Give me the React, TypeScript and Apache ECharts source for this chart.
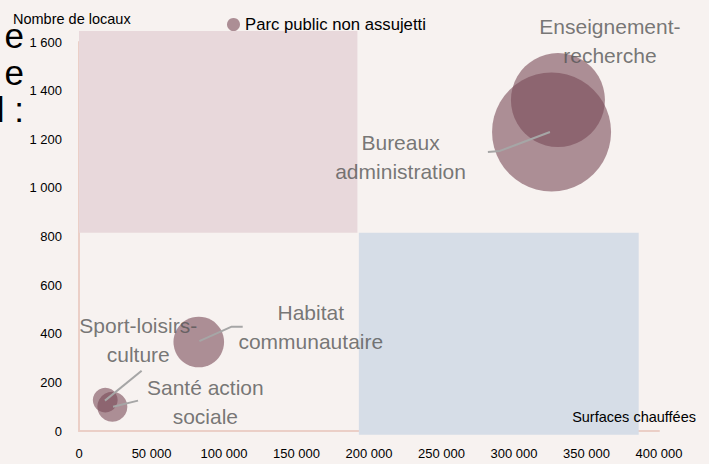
import React, { useEffect, useRef } from "react";
import * as echarts from "echarts";

const seriesName = "Parc public non assujetti";
const categories = [
  "Enseignement-\nrecherche",
  "Bureaux\nadministration",
  "Habitat\ncommunautaire",
  "Sport-loisirs-\nculture",
  "Santé action\nsociale",
];
const surfaces = [330300, 325900, 82600, 18100, 23000];
const locaux = [1361, 1230, 366, 127, 100];
const bubbleValues = [2209, 3540, 640, 154, 225];
const labelOffsets: [number, number][] = [
  [52, -59],
  [-151, 25],
  [112, -15],
  [33, -60],
  [93, -5],
];
const leaderLines: [number, number][][] = [
  [],
  [
    [282000, 1148],
    [290300, 1152],
    [324800, 1230],
  ],
  [
    [112900, 429],
    [105300, 429],
    [83000, 370],
  ],
  [
    [43200, 248],
    [17900, 125],
  ],
  [
    [40700, 125],
    [23500, 100],
  ],
];
// quadrant zones: [x0, y0, x1, y1, color]
const zones: [number, number, number, number, string][] = [
  [0, 815, 192000, 1645, "#e8d8db"],
  [193000, -15, 386000, 815, "#d6dde7"],
];
const xTicks = { min: 0, max: 400000, interval: 50000 };
const yTicks = { min: 0, max: 1600, interval: 200 };
const clippedText = ["e", "e", "al :"];

const REG = "'Liberation Sans', Arial, sans-serif";

const fmt = (v: number) =>
  String(v).replace(/\B(?=(\d{3})+(?!\d))/g, " ");

export default function App() {
  const ref = useRef<HTMLDivElement>(null);
  useEffect(() => {
    document.body.style.margin = "0";
    if (!ref.current) return;
    const chart = echarts.init(ref.current, undefined, { renderer: "svg" });

    const leaderSeries = leaderLines
      .map((pts, i) => ({ pts, i }))
      .filter((d) => d.pts.length > 0)
      .map((d) => ({
        type: "line",
        name: "leader" + d.i,
        data: d.pts,
        symbol: "none",
        silent: true,
        z: 5,
        clip: false,
        lineStyle: { color: "#a6a6a6", width: 2 },
      }));

    const option: any = {
      animation: false,
      backgroundColor: "#f7f2f0",
      grid: { left: 79, right: 50, top: 42, bottom: 33 },
      legend: {
        data: [seriesName],
        left: 222,
        top: 11,
        icon: "circle",
        itemWidth: 13,
        itemHeight: 13,
        itemGap: 5,
        textStyle: { fontFamily: REG, fontSize: 16.7, color: "#000" },
      },
      xAxis: {
        type: "value",
        min: xTicks.min,
        max: xTicks.max,
        interval: xTicks.interval,
        axisLine: { show: true, lineStyle: { color: "#ebcfc7", width: 2 } },
        axisTick: { show: false },
        splitLine: { show: false },
        axisLabel: {
          fontFamily: REG,
          fontSize: 13,
          color: "#000",
          margin: 16,
          formatter: (v: number) => fmt(v),
        },
      },
      yAxis: {
        type: "value",
        min: yTicks.min,
        max: yTicks.max,
        interval: yTicks.interval,
        axisLine: { show: true, lineStyle: { color: "#ebcfc7", width: 2 } },
        axisTick: { show: false },
        splitLine: { show: false },
        axisLabel: {
          fontFamily: REG,
          fontSize: 13,
          color: "#000",
          margin: 17,
          formatter: (v: number) => fmt(v),
        },
      },
      graphic: [
        {
          type: "text",
          left: 13,
          top: 11,
          z: 10,
          style: {
            text: "Nombre de locaux",
            fontFamily: REG,
            fontSize: 14.5,
            fill: "#000",
          },
        },
        {
          type: "text",
          right: 13,
          top: 409,
          z: 10,
          style: {
            text: "Surfaces chauffées",
            fontFamily: REG,
            fontSize: 14.5,
            fill: "#000",
          },
        },
        ...clippedText.map((t, i) => ({
          type: "text",
          x: 24,
          y: 35 + i * 37,
          z: 10,
          style: {
            text: t,
            fontFamily: REG,
            fontSize: 35,
            fill: "#000",
            align: "right",
            verticalAlign: "middle",
          },
        })),
      ],
      series: [
        {
          type: "custom",
          name: "zones",
          silent: true,
          clip: false,
          z: 1,
          data: zones.map((z) => [z[0], z[1], z[2], z[3]]),
          renderItem: (params: any, api: any) => {
            const p0 = api.coord([api.value(0), api.value(3)]);
            const p1 = api.coord([api.value(2), api.value(1)]);
            return {
              type: "rect",
              shape: { x: p0[0], y: p0[1], width: p1[0] - p0[0], height: p1[1] - p0[1] },
              style: { fill: zones[params.dataIndex][4] },
            };
          },
        },
        {
          type: "scatter",
          name: seriesName,
          z: 3,
          clip: false,
          itemStyle: { color: "rgba(120,72,86,0.74)" },
          symbolSize: (val: number[]) => 2 * Math.sqrt(val[2]),
          data: categories.map((c, i) => ({
            name: c,
            value: [surfaces[i], locaux[i], bubbleValues[i]],
            label: {
              show: true,
              position: "inside",
              offset: labelOffsets[i],
              formatter: "{b}",
              fontFamily: REG,
              fontSize: 21,
              lineHeight: 29,
              color: "#555555",
              align: "center",
              verticalAlign: "middle",
            },
          })),
          emphasis: { disabled: true },
        },
        ...leaderSeries,
      ],
    };
    chart.setOption(option);
    return () => chart.dispose();
  }, []);
  return (
    <div
      ref={ref}
      style={{ position: "fixed", left: 0, top: 0, width: 709, height: 464 }}
    />
  );
}
